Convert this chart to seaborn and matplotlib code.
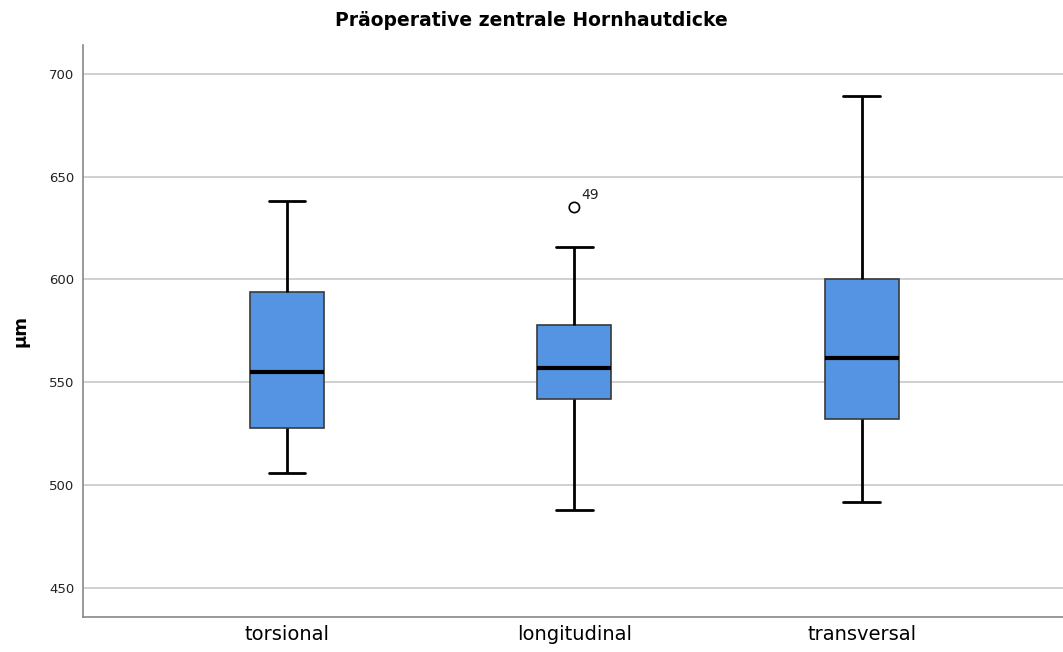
import matplotlib
matplotlib.use("Agg")
import matplotlib.pyplot as plt
import seaborn as sns
import pandas as pd

categories = ["torsional", "longitudinal", "transversal"]
mins = [506, 488, 492]
q1s = [528, 542, 532]
medians = [555, 557, 562]
q3s = [594, 578, 600]
maxs = [638, 616, 689]
outlier_cat = ["longitudinal"]
outlier_val = [635]
outlier_lbl = ["49"]

rows = []
for c, a, b, m, d, e in zip(categories, mins, q1s, medians, q3s, maxs):
    for v in (a, b, m, d, e):
        rows.append({"Gruppe": c, "val": v})
df = pd.DataFrame(rows)
odf = pd.DataFrame({"Gruppe": outlier_cat, "val": outlier_val})

sns.set_theme(style="white")
plt.rcParams['font.family'] = ['DejaVu Sans']

fig = plt.figure(figsize=(10.63, 6.52), dpi=100)
ax = fig.add_axes([0.078, 0.054, 0.922, 0.877])

ax.yaxis.grid(True, color="#c8c8c8", linewidth=1.2)
ax.set_axisbelow(True)

sns.boxplot(data=df, x="Gruppe", y="val", order=categories, whis=(0, 100),
            width=0.257, color="#5594e2", saturation=1, linecolor="#333333",
            fliersize=0, ax=ax,
            boxprops=dict(edgecolor="#3a3a3a", linewidth=1.2),
            whiskerprops=dict(color="black", linewidth=2),
            capprops=dict(color="black", linewidth=2),
            medianprops=dict(color="black", linewidth=3))

sns.scatterplot(data=odf, x="Gruppe", y="val", marker="o", s=55,
                facecolor="none", edgecolor="black", linewidth=1.2, ax=ax,
                zorder=5)
for c, v, l in zip(outlier_cat, outlier_val, outlier_lbl):
    ax.annotate(l, (categories.index(c), v), xytext=(5, 6),
                textcoords="offset points", fontsize=10, color="#222222")

ax.set_xlim(-0.71, 2.70)
ax.set_ylim(436, 714)
ax.set_yticks([450, 500, 550, 600, 650, 700])
ax.tick_params(axis="y", labelsize=9.5, colors="#222222", length=0, pad=6)
ax.tick_params(axis="x", labelsize=14, colors="black", length=0, pad=6)
for s in ("top", "right"):
    ax.spines[s].set_visible(False)
for s in ("left", "bottom"):
    ax.spines[s].set_color("#888888")
    ax.spines[s].set_linewidth(1.2)

ax.set_xlabel("")
ax.set_ylabel("µm", fontsize=13, fontweight="bold", labelpad=14, color="black")
fig.suptitle("Präoperative zentrale Hornhautdicke", fontsize=13.5,
             fontweight="bold", x=0.5, y=0.983, va="top", color="black")

fig.savefig("out.png", dpi=100)
